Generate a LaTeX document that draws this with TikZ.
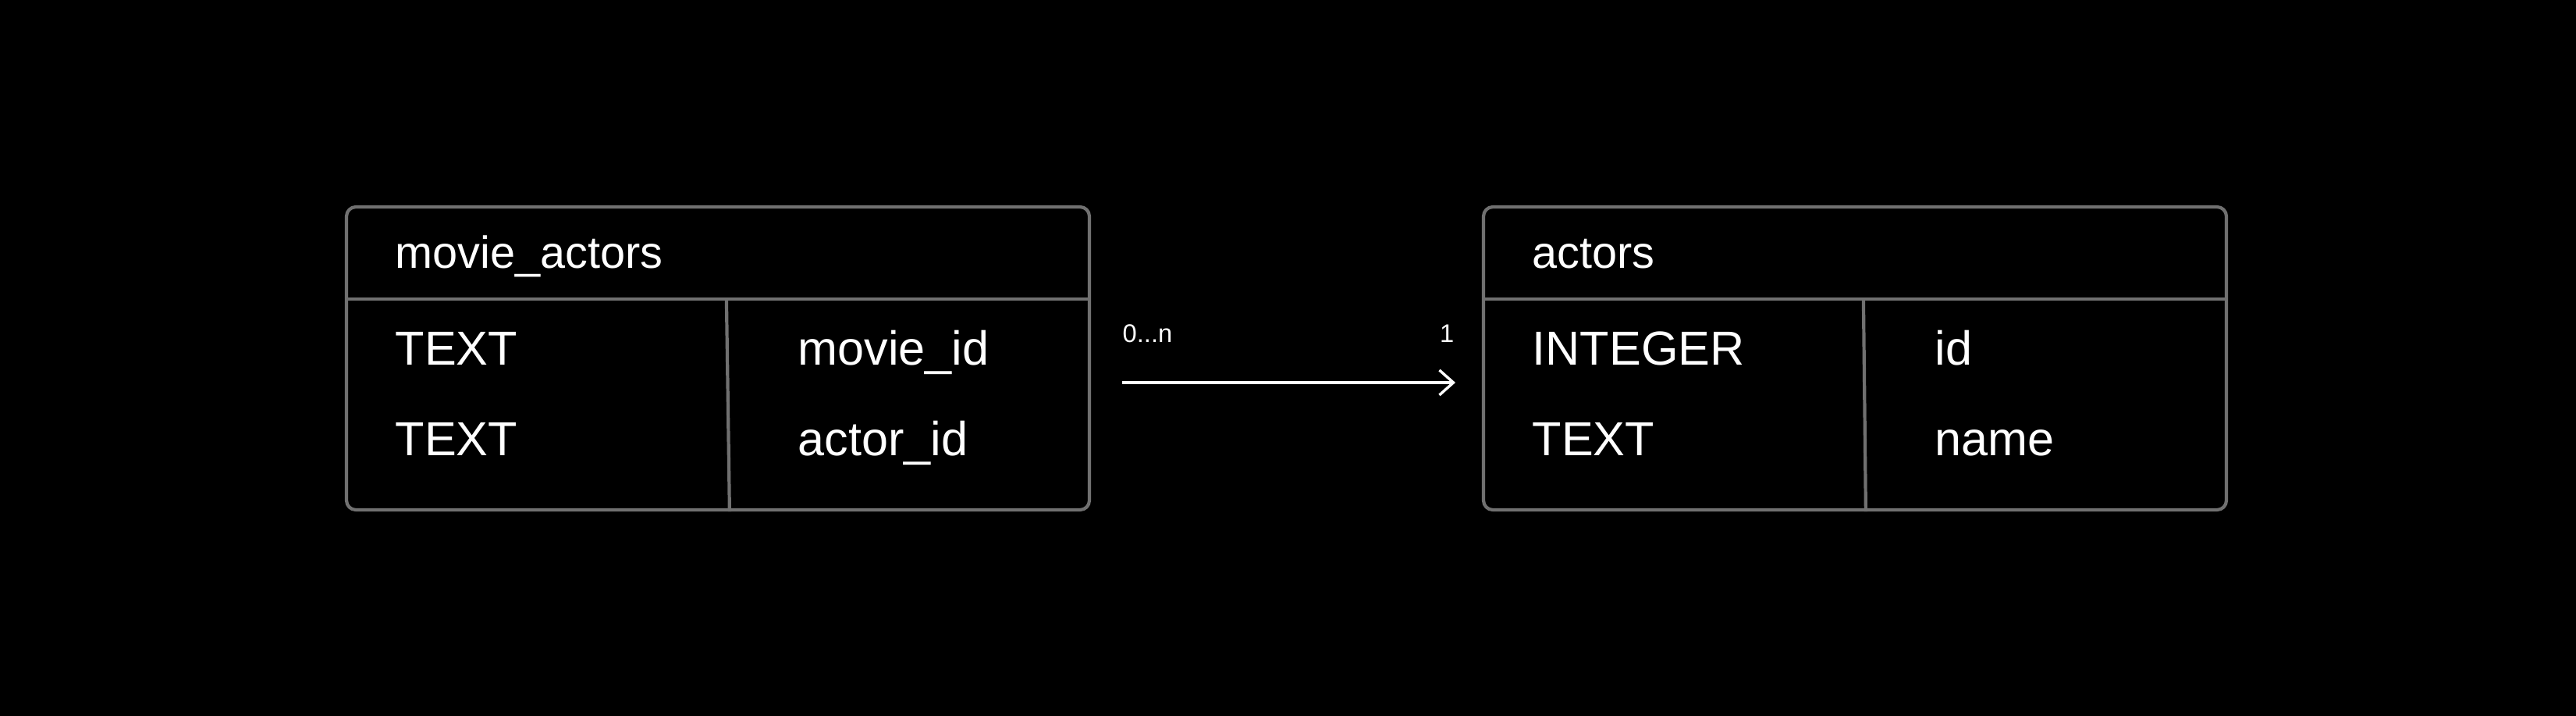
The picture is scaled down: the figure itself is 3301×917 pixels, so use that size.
\documentclass[tikz,border=0pt]{standalone}
\usepackage{fontspec}
\setmainfont{Liberation Sans}
\usetikzlibrary{arrows.meta,calc,positioning}
\definecolor{erBg}{HTML}{000000}
\definecolor{erLine}{HTML}{707070}
\definecolor{erInk}{HTML}{FFFFFF}
\tikzset{
 schema/.style={line join=round,text=erInk},
 tablebox/.style={draw=erLine,line width=.42mm,rounded corners=1.2mm,inner sep=0pt,
   minimum width=95.2mm,minimum height=38.8mm},
 rule/.style={draw=erLine,line width=.42mm},
 tname/.style={font=\fontsize{16.4pt}{19pt}\selectfont,anchor=base west,inner sep=0pt},
 field/.style={font=\fontsize{17.4pt}{20pt}\selectfont,anchor=base west,inner sep=0pt},
 card/.style={font=\fontsize{9.3pt}{11pt}\selectfont,inner sep=0pt},
 link/.style={draw=erInk,line width=.34mm,-{Straight Barb[length=1.8mm,width=3.2mm,line join=miter]}}
}
\begin{document}
\begin{tikzpicture}[schema,x=.1mm,y=-.1mm]
 \fill[erBg] (0,0) rectangle (3301,917);
 \useasboundingbox (0,0) rectangle (3301,917);
 % movie_actors
 \node[tablebox] (maBox) at (920,459) {};
 \draw[rule] ($(maBox.north west)+(0,120)$) -- ($(maBox.north east)+(0,120)$);
 \draw[rule] ($(maBox.north west)+(489,120)$) -- ($(maBox.south west)+(493,0)$);
 \node[tname] (maName) at (506,343) {movie\_actors};
 \node[field] (maTypeA) at (506,467) {TEXT};
 \node[field] (maTypeB) at (506,583) {TEXT};
 \node[field] (maColA) at (1022,467) {movie\_id};
 \node[field] (maColB) at (1022,583) {actor\_id};
 % actors
 \node[tablebox] (acBox) at (2377,459) {};
 \draw[rule] ($(acBox.north west)+(0,120)$) -- ($(acBox.north east)+(0,120)$);
 \draw[rule] ($(acBox.north west)+(489,120)$) -- ($(acBox.south west)+(492,0)$);
 \node[tname] (acName) at (1963,343) {actors};
 \node[field] (acTypeA) at (1963,467) {INTEGER};
 \node[field] (acTypeB) at (1963,583) {TEXT};
 \node[field] (acColA) at (2479,467) {id};
 \node[field] (acColB) at (2479,583) {name};
 % relation
 \coordinate (fromMA) at (1438,490);
 \coordinate (toAc) at (1865,490);
 \draw[link] (fromMA) -- (toAc);
 \node[card,anchor=base west] (cardMany) at (1438,438) {0...n};
 \node[card,anchor=base east] (cardOne) at (1864,438) {1};
\end{tikzpicture}
\end{document}
